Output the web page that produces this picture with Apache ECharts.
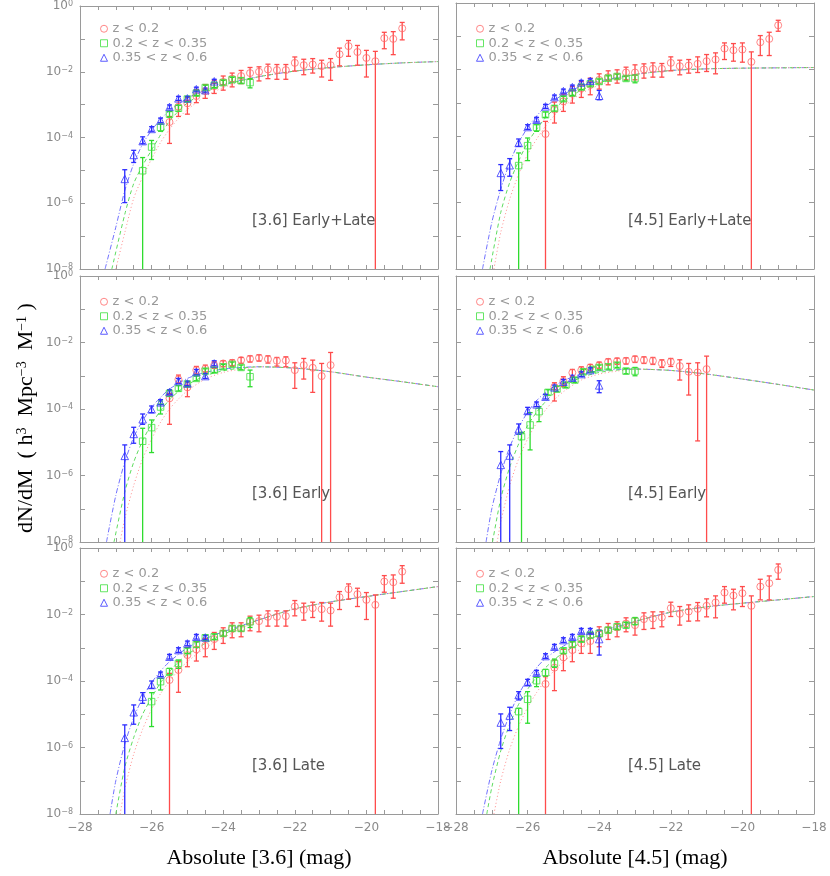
<!DOCTYPE html>
<html><head><meta charset="utf-8">
<script src="https://cdn.jsdelivr.net/npm/echarts@6/dist/echarts.min.js"></script>
<style>html,body{margin:0;padding:0;background:#fff}#c{width:830px;height:876px}</style>
</head><body><div id="c"></div>
<script>
// ---------- DATA (values as log10 of dN/dM; rows: [mag, value, lowErr, highErr]) ----------
// lowErr of -9 means the error bar runs below the plotted floor (1e-8)
const SERIES_NAMES = ['z < 0.2', '0.2 < z < 0.35', '0.35 < z < 0.6'];
const PANEL_LABELS = ['[3.6] Early+Late', '[4.5] Early+Late', '[3.6] Early', '[4.5] Early', '[3.6] Late', '[4.5] Late'];
const X_TITLES = ['Absolute [3.6] (mag)', 'Absolute [4.5] (mag)'];

// Panel 1: [3.6] Early+Late
const P1_BLUE = [[-26.75,-5.26,-5.98,-4.98],[-26.5,-4.53,-4.76,-4.39],[-26.25,-4.11,-4.19,-3.98],[-26.0,-3.74,-3.81,-3.67],[-25.75,-3.48,-3.55,-3.41],[-25.5,-3.07,-3.13,-3.01],[-25.25,-2.81,-2.87,-2.75],[-25.0,-2.81,-2.87,-2.75],[-24.75,-2.53,-2.59,-2.47],[-24.5,-2.56,-2.62,-2.50],[-24.25,-2.29,-2.35,-2.23]];
const P1_GREEN = [[-26.25,-5.01,-9,-4.61],[-26.0,-4.29,-4.67,-4.09],[-25.75,-3.69,-3.81,-3.59],[-25.5,-3.29,-3.38,-3.21],[-25.25,-3.11,-3.20,-3.02],[-25.0,-2.83,-2.91,-2.76],[-24.75,-2.65,-2.72,-2.58],[-24.5,-2.48,-2.55,-2.41],[-24.25,-2.41,-2.48,-2.34],[-24.0,-2.33,-2.40,-2.26],[-23.75,-2.24,-2.31,-2.17],[-23.5,-2.27,-2.35,-2.19],[-23.25,-2.33,-2.49,-2.21]];
const P1_RED = [[-25.5,-3.53,-4.18,-3.36],[-25.25,-3.06,-3.36,-2.88],[-25.0,-2.96,-3.29,-2.78],[-24.75,-2.74,-2.94,-2.54],[-24.5,-2.59,-2.81,-2.39],[-24.25,-2.44,-2.66,-2.26],[-24.0,-2.31,-2.56,-2.13],[-23.75,-2.21,-2.46,-2.04],[-23.5,-2.13,-2.36,-1.96],[-23.25,-2.04,-2.23,-1.87],[-23.0,-2.0,-2.28,-1.85],[-22.75,-1.93,-2.21,-1.77],[-22.5,-1.95,-2.23,-1.78],[-22.25,-1.95,-2.23,-1.78],[-22.0,-1.73,-1.98,-1.55],[-21.75,-1.80,-2.09,-1.62],[-21.5,-1.78,-2.04,-1.60],[-21.25,-1.83,-2.16,-1.65],[-21.0,-1.80,-2.26,-1.60],[-20.75,-1.47,-1.82,-1.28],[-20.5,-1.22,-1.53,-1.05],[-20.25,-1.40,-1.80,-1.20],[-20.0,-1.58,-2.16,-1.35],[-19.75,-1.68,-9,-1.38],[-19.5,-0.98,-1.30,-0.80],[-19.25,-1.0,-1.48,-0.78],[-19.0,-0.68,-1.03,-0.50]];
const P1_CURVE_BLUE = [[-27.3,-8],[-27.0,-6.73],[-26.75,-5.62],[-26.5,-4.8],[-26.25,-4.2],[-26.0,-3.78],[-25.75,-3.45],[-25.5,-3.18],[-25.0,-2.8],[-24.5,-2.56],[-24.0,-2.38]];
const P1_CURVE_GREEN = [[-27.11,-8],[-26.75,-6.34],[-26.5,-5.4],[-26.25,-4.85],[-26.0,-4.38],[-25.75,-3.92],[-25.5,-3.5],[-25.25,-3.2],[-25.0,-2.95],[-24.5,-2.62],[-24.0,-2.41]];
const P1_CURVE_RED = [[-27.0,-8],[-26.75,-6.9],[-26.5,-5.85],[-26.25,-5.2],[-26.0,-4.65],[-25.75,-4.15],[-25.5,-3.75],[-25.25,-3.42],[-25.0,-3.15],[-24.5,-2.75],[-24.0,-2.48],[-23.5,-2.3]];
const P1_CURVE_TAIL = [[-23.0,-2.15],[-22.0,-1.98],[-21.0,-1.87],[-20.0,-1.79],[-19.0,-1.73],[-18.0,-1.69]];

// Panel 2: [4.5] Early+Late
const P2_BLUE = [[-26.75,-5.11,-5.64,-4.86],[-26.5,-4.88,-5.21,-4.68],[-26.25,-4.21,-4.31,-4.09],[-26.0,-3.73,-3.80,-3.66],[-25.75,-3.51,-3.58,-3.44],[-25.5,-3.11,-3.17,-3.05],[-25.25,-2.83,-2.89,-2.77],[-25.0,-2.65,-2.71,-2.59],[-24.75,-2.53,-2.59,-2.47],[-24.5,-2.39,-2.45,-2.33],[-24.25,-2.34,-2.40,-2.28],[-24.0,-2.79,-2.91,-2.63]];
const P2_GREEN = [[-26.25,-4.89,-9,-4.51],[-26.0,-4.29,-4.74,-4.06],[-25.75,-3.74,-3.86,-3.66],[-25.5,-3.36,-3.44,-3.28],[-25.25,-3.17,-3.25,-3.09],[-25.0,-2.88,-2.95,-2.81],[-24.75,-2.71,-2.78,-2.64],[-24.5,-2.53,-2.60,-2.46],[-24.25,-2.43,-2.50,-2.36],[-24.0,-2.36,-2.43,-2.29],[-23.75,-2.26,-2.33,-2.19],[-23.5,-2.21,-2.28,-2.14],[-23.25,-2.27,-2.34,-2.20],[-23.0,-2.27,-2.40,-2.17]];
const P2_RED = [[-25.5,-3.94,-9,-3.56],[-25.25,-3.21,-3.61,-2.98],[-25.0,-2.96,-3.26,-2.74],[-24.75,-2.73,-3.01,-2.51],[-24.5,-2.57,-2.84,-2.36],[-24.25,-2.46,-2.76,-2.26],[-24.0,-2.31,-2.59,-2.13],[-23.75,-2.23,-2.46,-2.04],[-23.5,-2.21,-2.41,-2.01],[-23.25,-2.09,-2.31,-1.93],[-23.0,-2.09,-2.31,-1.86],[-22.75,-2.0,-2.26,-1.83],[-22.5,-1.98,-2.23,-1.80],[-22.25,-1.98,-2.23,-1.82],[-22.0,-1.80,-2.04,-1.62],[-21.75,-1.90,-2.16,-1.72],[-21.5,-1.88,-2.11,-1.70],[-21.25,-1.83,-2.09,-1.62],[-21.0,-1.75,-2.06,-1.55],[-20.75,-1.70,-2.13,-1.50],[-20.5,-1.37,-1.70,-1.20],[-20.25,-1.42,-1.75,-1.22],[-20.0,-1.40,-1.78,-1.20],[-19.75,-1.77,-9,-1.47],[-19.5,-1.18,-1.58,-0.98],[-19.25,-1.08,-1.58,-0.88],[-19.0,-0.67,-0.85,-0.52]];
const P2_CURVE_BLUE = [[-27.26,-8],[-27.0,-6.6],[-26.75,-5.6],[-26.5,-4.8],[-26.25,-4.2],[-26.0,-3.75],[-25.75,-3.4],[-25.5,-3.12],[-25.0,-2.75],[-24.5,-2.5],[-24.0,-2.35]];
const P2_CURVE_GREEN = [[-27.05,-8],[-26.75,-6.3],[-26.5,-5.4],[-26.25,-4.75],[-26.0,-4.2],[-25.75,-3.8],[-25.5,-3.45],[-25.25,-3.18],[-25.0,-2.95],[-24.5,-2.62],[-24.0,-2.4],[-23.5,-2.26]];
const P2_CURVE_RED = [[-26.94,-8],[-26.75,-6.9],[-26.5,-5.9],[-26.25,-5.15],[-26.0,-4.55],[-25.75,-4.1],[-25.5,-3.7],[-25.25,-3.38],[-25.0,-3.12],[-24.5,-2.72],[-24.0,-2.47],[-23.5,-2.3]];
const P2_CURVE_TAIL = [[-23.0,-2.15],[-22.0,-2.03],[-21.0,-1.98],[-20.0,-1.96],[-19.0,-1.95],[-18.0,-1.94]];

// Panel 3: [3.6] Early
const P3_BLUE = [[-26.75,-5.41,-9,-5.08],[-26.5,-4.75,-5.03,-4.55],[-26.25,-4.31,-4.46,-4.15],[-26.0,-4.01,-4.11,-3.91],[-25.75,-3.80,-3.87,-3.72],[-25.5,-3.49,-3.56,-3.42],[-25.25,-3.16,-3.23,-3.08],[-25.0,-3.23,-3.30,-3.16],[-24.75,-2.89,-2.96,-2.81],[-24.5,-3.01,-3.08,-2.94],[-24.25,-2.63,-2.70,-2.55]];
const P3_GREEN = [[-26.25,-4.97,-9,-4.58],[-26.0,-4.56,-5.31,-4.33],[-25.75,-3.94,-4.15,-3.76],[-25.5,-3.53,-3.61,-3.45],[-25.25,-3.38,-3.46,-3.30],[-25.0,-3.25,-3.32,-3.18],[-24.75,-3.08,-3.15,-3.01],[-24.5,-2.86,-2.93,-2.79],[-24.25,-2.83,-2.90,-2.76],[-24.0,-2.73,-2.80,-2.66],[-23.75,-2.66,-2.73,-2.59],[-23.5,-2.75,-2.82,-2.68],[-23.25,-3.03,-3.33,-2.83]];
const P3_RED = [[-25.5,-3.68,-4.46,-3.53],[-25.25,-3.11,-3.22,-2.98],[-25.0,-3.35,-3.63,-3.19],[-24.75,-2.83,-2.95,-2.72],[-24.5,-2.79,-2.89,-2.68],[-24.25,-2.68,-2.78,-2.58],[-24.0,-2.63,-2.73,-2.55],[-23.75,-2.61,-2.70,-2.52],[-23.5,-2.53,-2.63,-2.45],[-23.25,-2.49,-2.59,-2.40],[-23.0,-2.46,-2.56,-2.37],[-22.75,-2.50,-2.62,-2.40],[-22.5,-2.55,-2.71,-2.45],[-22.25,-2.54,-2.73,-2.43],[-22.0,-2.83,-3.38,-2.61],[-21.75,-2.68,-3.10,-2.48],[-21.5,-2.76,-3.50,-2.53],[-21.25,-3.01,-9,-2.63],[-21.0,-2.68,-9,-2.30]];
const P3_CURVE_BLUE = [[-27.26,-8],[-27.0,-6.6],[-26.75,-5.6],[-26.5,-4.85],[-26.25,-4.35],[-26.0,-3.95],[-25.75,-3.65],[-25.5,-3.4],[-25.0,-3.08],[-24.5,-2.9],[-24.0,-2.8],[-23.5,-2.75]];
const P3_CURVE_GREEN = [[-27.05,-8],[-26.75,-6.5],[-26.5,-5.6],[-26.25,-4.95],[-26.0,-4.45],[-25.75,-4.05],[-25.5,-3.72],[-25.25,-3.47],[-25.0,-3.27],[-24.5,-3.0],[-24.0,-2.85],[-23.5,-2.77]];
const P3_CURVE_RED = [[-26.88,-8],[-26.75,-7.3],[-26.5,-6.3],[-26.25,-5.5],[-26.0,-4.9],[-25.75,-4.4],[-25.5,-4.0],[-25.25,-3.7],[-25.0,-3.45],[-24.5,-3.1],[-24.0,-2.9],[-23.5,-2.8]];
const P3_CURVE_TAIL = [[-23.0,-2.73],[-22.0,-2.77],[-21.0,-2.88],[-20.0,-3.04],[-19.0,-3.18],[-18.0,-3.33]];

// Panel 4: [4.5] Early
const P4_BLUE = [[-26.75,-5.68,-9,-5.28],[-26.5,-5.40,-9,-5.08],[-26.25,-4.61,-4.76,-4.45],[-26.0,-4.06,-4.15,-3.95],[-25.75,-3.86,-3.93,-3.79],[-25.5,-3.63,-3.70,-3.56],[-25.25,-3.35,-3.42,-3.28],[-25.0,-3.18,-3.25,-3.11],[-24.75,-3.06,-3.13,-2.99],[-24.5,-2.95,-3.02,-2.88],[-24.25,-2.83,-2.90,-2.76],[-24.0,-3.29,-3.51,-3.15]];
const P4_GREEN = [[-26.17,-4.83,-9,-4.70],[-25.93,-4.48,-5.23,-4.11],[-25.68,-4.08,-4.38,-3.93],[-25.43,-3.50,-3.58,-3.42],[-25.18,-3.40,-3.48,-3.32],[-24.93,-3.28,-3.35,-3.21],[-24.68,-3.13,-3.20,-3.06],[-24.44,-2.88,-2.95,-2.81],[-24.19,-2.81,-2.88,-2.74],[-24.0,-2.75,-2.82,-2.68],[-23.75,-2.73,-2.80,-2.66],[-23.5,-2.68,-2.75,-2.61],[-23.25,-2.86,-2.94,-2.78],[-23.0,-2.86,-3.0,-2.75]];
const P4_RED = [[-25.25,-3.33,-3.76,-3.21],[-25.0,-3.16,-3.33,-3.03],[-24.75,-2.91,-3.03,-2.81],[-24.5,-2.83,-2.93,-2.73],[-24.25,-2.75,-2.85,-2.66],[-24.0,-2.68,-2.78,-2.59],[-23.75,-2.58,-2.68,-2.49],[-23.5,-2.56,-2.66,-2.47],[-23.25,-2.55,-2.65,-2.46],[-23.0,-2.50,-2.60,-2.41],[-22.75,-2.53,-2.63,-2.43],[-22.5,-2.55,-2.66,-2.45],[-22.25,-2.63,-2.75,-2.52],[-22.0,-2.58,-2.72,-2.48],[-21.75,-2.71,-3.13,-2.52],[-21.5,-2.88,-3.58,-2.63],[-21.25,-2.90,-4.96,-2.61],[-21.0,-2.80,-9,-2.41]];
const P4_CURVE_BLUE = [[-27.16,-8],[-27.0,-7.0],[-26.75,-5.95],[-26.5,-5.15],[-26.25,-4.55],[-26.0,-4.1],[-25.75,-3.75],[-25.5,-3.5],[-25.0,-3.15],[-24.5,-2.95],[-24.0,-2.85],[-23.5,-2.81]];
const P4_CURVE_GREEN = [[-26.98,-8],[-26.75,-6.7],[-26.5,-5.75],[-26.25,-5.05],[-26.0,-4.5],[-25.75,-4.1],[-25.5,-3.78],[-25.25,-3.52],[-25.0,-3.32],[-24.5,-3.05],[-24.0,-2.9],[-23.5,-2.83]];
const P4_CURVE_RED = [[-26.85,-8],[-26.75,-7.4],[-26.5,-6.3],[-26.25,-5.5],[-26.0,-4.9],[-25.75,-4.42],[-25.5,-4.03],[-25.25,-3.72],[-25.0,-3.48],[-24.5,-3.13],[-24.0,-2.95],[-23.5,-2.86]];
const P4_CURVE_TAIL = [[-23.0,-2.8],[-22.0,-2.84],[-21.0,-2.95],[-20.0,-3.1],[-19.0,-3.26],[-18.0,-3.43]];

// Panel 5: [3.6] Late
const P5_BLUE = [[-26.75,-5.71,-9,-5.32],[-26.5,-4.94,-5.30,-4.72],[-26.25,-4.47,-4.67,-4.35],[-26.0,-4.12,-4.22,-4.00],[-25.75,-3.80,-3.87,-3.73],[-25.5,-3.27,-3.34,-3.20],[-25.25,-3.07,-3.14,-3.00],[-25.0,-2.87,-2.94,-2.80],[-24.75,-2.67,-2.74,-2.60],[-24.5,-2.69,-2.76,-2.62]];
const P5_GREEN = [[-26.0,-4.62,-5.37,-4.35],[-25.75,-4.02,-4.27,-3.92],[-25.5,-3.72,-3.82,-3.62],[-25.25,-3.47,-3.62,-3.37],[-25.0,-3.09,-3.17,-3.01],[-24.75,-2.90,-2.98,-2.82],[-24.5,-2.70,-2.78,-2.62],[-24.25,-2.67,-2.75,-2.59],[-24.0,-2.57,-2.65,-2.49],[-23.75,-2.42,-2.50,-2.34],[-23.5,-2.42,-2.50,-2.34],[-23.25,-2.22,-2.39,-2.09]];
const P5_RED = [[-25.5,-3.97,-9,-3.77],[-25.25,-3.67,-4.34,-3.42],[-25.0,-3.22,-3.57,-2.99],[-24.75,-3.05,-3.40,-2.82],[-24.5,-2.94,-3.27,-2.72],[-24.25,-2.74,-3.05,-2.54],[-24.0,-2.57,-2.87,-2.40],[-23.75,-2.42,-2.70,-2.25],[-23.5,-2.42,-2.67,-2.25],[-23.25,-2.22,-2.49,-2.05],[-23.0,-2.20,-2.52,-2.02],[-22.75,-2.07,-2.35,-1.89],[-22.5,-2.07,-2.35,-1.89],[-22.25,-2.05,-2.35,-1.89],[-22.0,-1.76,-2.04,-1.58],[-21.75,-1.86,-2.17,-1.66],[-21.5,-1.81,-2.09,-1.63],[-21.25,-1.84,-2.20,-1.64],[-21.0,-1.88,-2.35,-1.66],[-20.75,-1.48,-1.85,-1.31],[-20.5,-1.24,-1.54,-1.08],[-20.25,-1.39,-1.76,-1.21],[-20.0,-1.56,-2.15,-1.34],[-19.75,-1.71,-9,-1.41],[-19.5,-1.01,-1.33,-0.83],[-19.25,-1.03,-1.51,-0.81],[-19.0,-0.71,-1.06,-0.53]];
const P5_CURVE_BLUE = [[-27.16,-8],[-27.0,-7.0],[-26.75,-5.9],[-26.5,-5.1],[-26.25,-4.5],[-26.0,-4.05],[-25.75,-3.7],[-25.5,-3.42],[-25.0,-3.0],[-24.5,-2.73],[-24.0,-2.52]];
const P5_CURVE_GREEN = [[-27.0,-8],[-26.75,-6.6],[-26.5,-5.7],[-26.25,-5.0],[-26.0,-4.5],[-25.75,-4.05],[-25.5,-3.72],[-25.25,-3.43],[-25.0,-3.2],[-24.5,-2.87],[-24.0,-2.6],[-23.5,-2.36]];
const P5_CURVE_RED = [[-26.88,-8],[-26.75,-7.25],[-26.5,-6.2],[-26.25,-5.45],[-26.0,-4.85],[-25.75,-4.38],[-25.5,-4.0],[-25.25,-3.68],[-25.0,-3.42],[-24.5,-3.0],[-24.0,-2.7],[-23.5,-2.42]];
const P5_CURVE_TAIL = [[-23.0,-2.16],[-22.0,-1.83],[-21.0,-1.62],[-20.0,-1.46],[-19.0,-1.31],[-18.0,-1.16]];

// Panel 6: [4.5] Late
const P6_BLUE = [[-26.75,-5.25,-6.03,-4.99],[-26.5,-5.04,-5.49,-4.79],[-26.25,-4.42,-4.57,-4.32],[-26.0,-4.04,-4.13,-3.95],[-25.75,-3.75,-3.82,-3.68],[-25.5,-3.25,-3.32,-3.18],[-25.25,-2.97,-3.04,-2.90],[-25.0,-2.77,-2.84,-2.70],[-24.75,-2.67,-2.74,-2.60],[-24.5,-2.49,-2.56,-2.42],[-24.25,-2.49,-2.56,-2.42],[-24.0,-2.74,-3.22,-2.47]];
const P6_GREEN = [[-26.25,-4.92,-9,-4.82],[-26.0,-4.55,-5.27,-4.32],[-25.75,-3.99,-4.17,-3.89],[-25.5,-3.75,-3.85,-3.65],[-25.25,-3.47,-3.59,-3.34],[-25.0,-3.09,-3.17,-3.01],[-24.75,-2.90,-2.98,-2.82],[-24.5,-2.74,-2.82,-2.66],[-24.25,-2.62,-2.70,-2.54],[-24.0,-2.57,-2.65,-2.49],[-23.75,-2.47,-2.55,-2.39],[-23.5,-2.37,-2.45,-2.29],[-23.25,-2.32,-2.40,-2.24],[-23.0,-2.20,-2.31,-2.09]];
const P6_RED = [[-25.5,-4.09,-9,-3.87],[-25.25,-3.60,-4.29,-3.37],[-25.0,-3.29,-3.69,-3.05],[-24.75,-3.07,-3.42,-2.82],[-24.5,-2.87,-3.17,-2.65],[-24.25,-2.80,-3.17,-2.57],[-24.0,-2.60,-2.97,-2.37],[-23.75,-2.47,-2.75,-2.27],[-23.5,-2.39,-2.67,-2.22],[-23.25,-2.27,-2.52,-2.10],[-23.0,-2.32,-2.62,-2.10],[-22.75,-2.14,-2.45,-1.95],[-22.5,-2.12,-2.42,-1.92],[-22.25,-2.09,-2.37,-1.92],[-22.0,-1.81,-2.06,-1.63],[-21.75,-1.98,-2.32,-1.76],[-21.5,-1.91,-2.20,-1.71],[-21.25,-1.83,-2.19,-1.64],[-21.0,-1.74,-2.07,-1.53],[-20.75,-1.64,-2.10,-1.44],[-20.5,-1.34,-1.66,-1.16],[-20.25,-1.43,-1.86,-1.24],[-20.0,-1.36,-1.76,-1.16],[-19.75,-1.74,-9,-1.44],[-19.5,-1.16,-1.56,-0.94],[-19.25,-1.06,-1.56,-0.84],[-19.0,-0.66,-0.94,-0.48]];
const P6_CURVE_BLUE = [[-27.26,-8],[-27.0,-6.7],[-26.75,-5.75],[-26.5,-5.0],[-26.25,-4.4],[-26.0,-3.95],[-25.75,-3.6],[-25.5,-3.32],[-25.0,-2.95],[-24.5,-2.7],[-24.0,-2.52]];
const P6_CURVE_GREEN = [[-27.14,-8],[-27.0,-7.2],[-26.75,-6.1],[-26.5,-5.3],[-26.25,-4.7],[-26.0,-4.25],[-25.75,-3.88],[-25.5,-3.6],[-25.25,-3.35],[-25.0,-3.15],[-24.5,-2.85],[-24.0,-2.62],[-23.5,-2.4]];
const P6_CURVE_RED = [[-26.94,-8],[-26.75,-7.0],[-26.5,-6.05],[-26.25,-5.35],[-26.0,-4.8],[-25.75,-4.35],[-25.5,-3.98],[-25.25,-3.68],[-25.0,-3.42],[-24.5,-3.02],[-24.0,-2.72],[-23.5,-2.45]];
const P6_CURVE_TAIL = [[-23.0,-2.21],[-22.0,-1.93],[-21.0,-1.77],[-20.0,-1.66],[-19.0,-1.56],[-18.0,-1.46]];

// ---------- BUILD ----------
const PANELS = [
  {red:P1_RED, green:P1_GREEN, blue:P1_BLUE, c:{red:P1_CURVE_RED, green:P1_CURVE_GREEN, blue:P1_CURVE_BLUE}, tail:P1_CURVE_TAIL},
  {red:P2_RED, green:P2_GREEN, blue:P2_BLUE, c:{red:P2_CURVE_RED, green:P2_CURVE_GREEN, blue:P2_CURVE_BLUE}, tail:P2_CURVE_TAIL},
  {red:P3_RED, green:P3_GREEN, blue:P3_BLUE, c:{red:P3_CURVE_RED, green:P3_CURVE_GREEN, blue:P3_CURVE_BLUE}, tail:P3_CURVE_TAIL},
  {red:P4_RED, green:P4_GREEN, blue:P4_BLUE, c:{red:P4_CURVE_RED, green:P4_CURVE_GREEN, blue:P4_CURVE_BLUE}, tail:P4_CURVE_TAIL},
  {red:P5_RED, green:P5_GREEN, blue:P5_BLUE, c:{red:P5_CURVE_RED, green:P5_CURVE_GREEN, blue:P5_CURVE_BLUE}, tail:P5_CURVE_TAIL},
  {red:P6_RED, green:P6_GREEN, blue:P6_BLUE, c:{red:P6_CURVE_RED, green:P6_CURVE_GREEN, blue:P6_CURVE_BLUE}, tail:P6_CURVE_TAIL}
];

const GRID_W = 358, GRID_H = 266;
const GRID_POS = [[80,3],[456,3],[80,276],[456,276],[80,548],[456,548]];
const KEYS = ['red','green','blue'];
const NAME_OF = {red:SERIES_NAMES[0], green:SERIES_NAMES[1], blue:SERIES_NAMES[2]};
const BAR_COLOR = {red:'#ff4c4c', green:'#2fdc2f', blue:'#2b2bff'};
const MARK_COLOR = {red:'#ff6a6a', green:'#3ee03e', blue:'#3535ff'};
const CURVE_COLOR = {red:'#ff8c8c', green:'#5fdc5f', blue:'#7272ff'};
const SYMBOL = {red:'circle', green:'rect', blue:'triangle'};
const SYMSIZE = {red:7, green:6.5, blue:7.5};
const DASH = {red:[1,2.5], green:[4,3], blue:[5,2,1,2]};
const AXIS_COLOR = '#9a9a9a';
const LABEL_COLOR = '#8a8a8a';
const pw = v => Math.pow(10, v);
const MINUS = '\u2212';

function errRenderer(color) {
  return function (params, api) {
    const x = api.value(0);
    const loRaw = api.value(1);
    const lo = Math.max(loRaw, 1e-8);
    const hi = api.value(2);
    const a = api.coord([x, hi]);
    const b = api.coord([x, lo]);
    const cw = 2.5;
    const st = {stroke: color, lineWidth: 1.3};
    const ch = [
      {type:'line', shape:{x1:a[0], y1:a[1], x2:b[0], y2:b[1]}, style:st},
      {type:'line', shape:{x1:a[0]-cw, y1:a[1], x2:a[0]+cw, y2:a[1]}, style:st}
    ];
    if (loRaw > 1e-8) ch.push({type:'line', shape:{x1:b[0]-cw, y1:b[1], x2:b[0]+cw, y2:b[1]}, style:st});
    return {type:'group', children: ch};
  };
}

const grid = [], xAxis = [], yAxis = [], series = [], legend = [], graphic = [];

PANELS.forEach((p, i) => {
  const [L, T] = GRID_POS[i];
  const bottomRow = i >= 4, leftCol = i % 2 === 0;
  grid.push({left:L, top:T, width:GRID_W, height:GRID_H, show:false});
  const ls = {color:AXIS_COLOR, width:1};
  const mkX = (pos, showLabels) => ({
    type:'value', gridIndex:i, position:pos, min:-28, max:-18, interval:0.5,
    axisLine:{show:true, onZero:false, lineStyle:ls},
    axisTick:{show:true, inside:true, length:4, lineStyle:ls},
    axisLabel:{show:showLabels, margin:8, color:LABEL_COLOR, fontSize:12, fontFamily:'DejaVu Sans',
      formatter: v => (Math.abs(v % 2) < 1e-9 ? (v < 0 ? MINUS : '') + Math.abs(v) : '')},
    splitLine:{show:false}
  });
  xAxis.push(mkX('bottom', bottomRow));
  xAxis.push(mkX('top', false));
  const mkY = (pos, showLabels) => ({
    type:'log', logBase:10, gridIndex:i, position:pos, min:1e-8, max:1, splitNumber:8,
    axisLine:{show:true, onZero:false, lineStyle:ls},
    axisTick:{show:true, inside:true, length:5, lineStyle:ls},
    axisLabel:{show:showLabels, margin:7, color:LABEL_COLOR, fontSize:12, fontFamily:'DejaVu Sans',
      formatter: v => {
        const e = Math.round(Math.log10(v));
        if (e % 2 !== 0) return '';
        return '{b|10}{s|' + (e < 0 ? MINUS : '') + Math.abs(e) + '}';
      },
      rich:{
        b:{fontSize:12, lineHeight:12, verticalAlign:'bottom', color:LABEL_COLOR, fontFamily:'DejaVu Sans'},
        s:{fontSize:8, lineHeight:8, verticalAlign:'top', padding:[0,0,7,0], color:LABEL_COLOR, fontFamily:'DejaVu Sans'}
      }},
    splitLine:{show:false}
  });
  yAxis.push(mkY('left', leftCol));
  yAxis.push(mkY('right', false));

  KEYS.slice().reverse().forEach(k => {
    const curve = p.c[k].concat(p.tail);
    series.push({
      type:'line', name:'model ' + k, xAxisIndex:2*i, yAxisIndex:2*i,
      data: curve.map(r => [r[0], pw(r[1])]),
      showSymbol:false, smooth:0.25, silent:true, clip:true, z:1,
      lineStyle:{color:CURVE_COLOR[k], width:1, type:DASH[k]}
    });
  });
  KEYS.forEach(k => {
    series.push({
      type:'custom', name:'err ' + k, xAxisIndex:2*i, yAxisIndex:2*i, clip:true, silent:true, z:2,
      renderItem: errRenderer(BAR_COLOR[k]),
      encode:{x:0, y:[1,2]},
      data: p[k].map(r => [r[0], pw(r[2]), pw(r[3])])
    });
  });
  KEYS.forEach(k => {
    series.push({
      type:'scatter', name:NAME_OF[k], xAxisIndex:2*i, yAxisIndex:2*i, z:3, silent:true,
      symbol:SYMBOL[k], symbolSize:SYMSIZE[k],
      itemStyle:{color:'rgba(255,255,255,0)', borderColor:MARK_COLOR[k], borderWidth:1},
      data: p[k].map(r => [r[0], pw(r[1])])
    });
  });

  legend.push({
    left:L+20, top:T+19, orient:'vertical', padding:0, itemGap:1, itemWidth:7, itemHeight:7,
    selectedMode:false, itemStyle:{borderWidth:1},
    textStyle:{color:'#999', fontSize:13, lineHeight:13.5, fontFamily:'DejaVu Sans'},
    data: SERIES_NAMES.slice()
  });

  graphic.push({
    type:'text', x:L+172, y:T+218, silent:true,
    style:{text:PANEL_LABELS[i], font:'15px "DejaVu Sans"', fill:'#555', align:'left', verticalAlign:'middle'}
  });
});

graphic.push({
  type:'text', x:259, y:858, silent:true,
  style:{text:X_TITLES[0], font:'22px "Liberation Serif"', fill:'#000', align:'center', verticalAlign:'middle'}
});
graphic.push({
  type:'text', x:635, y:858, silent:true,
  style:{text:X_TITLES[1], font:'22px "Liberation Serif"', fill:'#000', align:'center', verticalAlign:'middle'}
});
graphic.push({
  type:'text', x:26, y:418, rotation:Math.PI/2, silent:true,
  style:{
    text:'{b|dN/dM  ( h}{s|3}{b|  Mpc}{s|' + MINUS + '3}{b|  M}{s|' + MINUS + '1}{b| )}',
    align:'center', verticalAlign:'middle', fill:'#000',
    rich:{
      b:{fontSize:22, lineHeight:22, verticalAlign:'bottom', fontFamily:'Liberation Serif', fill:'#000', color:'#000'},
      s:{fontSize:14, lineHeight:14, verticalAlign:'top', padding:[0,0,10,0], fontFamily:'Liberation Serif', fill:'#000', color:'#000'}
    }
  }
});

const chart = echarts.init(document.getElementById('c'), null, {renderer:'canvas'});
chart.setOption({
  animation:false,
  backgroundColor:'#fff',
  grid, xAxis, yAxis, series, legend, graphic
});
</script></body></html>
